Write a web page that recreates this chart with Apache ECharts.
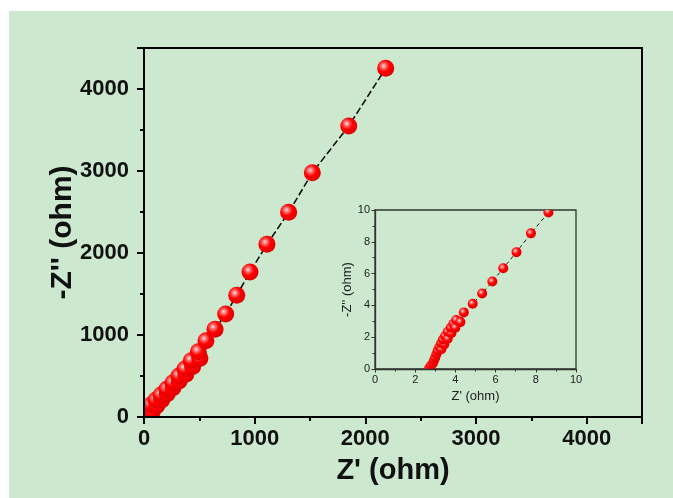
<!DOCTYPE html>
<html>
<head>
<meta charset="utf-8">
<script src="https://cdn.jsdelivr.net/npm/echarts@6/dist/echarts.min.js"></script>
<style>
  html, body { margin: 0; padding: 0; background: #ffffff; }
  #panel { position: absolute; left: 9px; top: 11px; width: 664px; height: 487px; background: #cce8cf; }
  #chart { position: absolute; left: 0; top: 0; width: 673px; height: 498px; }
</style>
</head>
<body>
<div id="panel"></div>
<div id="chart"></div>
<script>
// Nyquist sweep: real part Z' and negative imaginary part -Z'' (ohm)
const zRe = [
  2.69, 2.78, 2.88, 2.94, 3.00, 3.06, 3.12, 3.20, 3.30, 3.29, 3.45, 3.38,
  3.49, 3.62, 3.62, 3.80, 3.77, 3.90, 4.00, 4.04, 4.25, 4.42, 4.86, 5.33,
  5.84, 6.38, 7.04, 7.76, 8.63,
  9, 45, 27, 75, 63, 115, 108, 160, 154, 210, 208, 262, 262, 318, 316, 378,
  370, 440, 427, 505, 491, 560, 642, 738, 838, 958, 1111, 1307, 1521,
  1850, 2184
];
const zIm = [
  0.04, 0.20, 0.36, 0.55, 0.73, 0.94, 1.15, 1.38, 1.25, 1.62, 1.55, 1.85,
  2.08, 1.90, 2.34, 2.25, 2.60, 2.84, 2.60, 3.08, 2.95, 3.56, 4.10, 4.75,
  5.50, 6.34, 7.35, 8.53, 9.85,
  37, 14, 85, 68, 146, 138, 207, 208, 268, 283, 341, 358, 418, 438, 500, 522,
  585, 615, 687, 715, 796, 930, 1070, 1256, 1484, 1768, 2106, 2496, 2979,
  3549, 4252
];

// Axis ranges and tick steps
const mainRange = [0, 4500];
const mainStep = 1000;
const insetRange = [0, 10];
const insetStep = 2;

const points = zRe.map((x, i) => [x, zIm[i]]);
const FONT = "'Liberation Sans', Arial, sans-serif";

function sphereFill() {
  return new echarts.graphic.RadialGradient(0.38, 0.36, 0.68, [
    { offset: 0, color: '#ffe6e6' },
    { offset: 0.22, color: '#ff6a6a' },
    { offset: 0.5, color: '#ff0000' },
    { offset: 1, color: '#dd0000' }
  ]);
}

function markerSeries(xi, yi, r) {
  return {
    type: 'custom',
    xAxisIndex: xi,
    yAxisIndex: yi,
    clip: true,
    z: 4,
    encode: { x: 0, y: 1 },
    data: points,
    renderItem: function (params, api) {
      const p = api.coord([api.value(0), api.value(1)]);
      return {
        type: 'circle',
        shape: { cx: p[0], cy: p[1], r: r },
        style: { fill: sphereFill() }
      };
    }
  };
}

function hideEnd(max) {
  return function (v) { return v === max ? '' : String(v); };
}

const chart = echarts.init(document.getElementById('chart'), null, { renderer: 'canvas' });

chart.setOption({
  backgroundColor: 'transparent',
  animation: false,
  textStyle: { fontFamily: FONT },
  grid: [
    { left: 144, top: 48, width: 498, height: 369, show: true, borderColor: '#000', borderWidth: 2, backgroundColor: 'transparent' },
    { left: 375, top: 210, width: 201, height: 159, show: true, borderColor: '#333', borderWidth: 1.3, backgroundColor: 'transparent' }
  ],
  xAxis: [
    {
      gridIndex: 0, type: 'value', min: mainRange[0], max: mainRange[1], interval: mainStep, z: 10,
      axisLine: { lineStyle: { color: '#000', width: 2 } },
      axisTick: { length: 7, lineStyle: { color: '#000', width: 2 } },
      axisLabel: { fontSize: 22, fontWeight: 'bold', color: '#111', margin: 11, fontFamily: FONT, formatter: hideEnd(mainRange[1]) },
      splitLine: { show: false },
      name: "Z' (ohm)", nameLocation: 'middle', nameGap: 39, nameMoveOverlap: false,
      nameTextStyle: { fontSize: 29, fontWeight: 'bold', color: '#111', fontFamily: FONT }
    },
    {
      gridIndex: 0, type: 'value', min: mainRange[0], max: mainRange[1], interval: mainStep / 2, position: 'bottom', z: 10,
      axisLine: { show: false },
      axisTick: { length: 4, lineStyle: { color: '#000', width: 2 } },
      axisLabel: { show: false },
      splitLine: { show: false }
    },
    {
      gridIndex: 1, type: 'value', min: insetRange[0], max: insetRange[1], interval: insetStep, z: 10,
      axisLine: { lineStyle: { color: '#333', width: 1.3 } },
      axisTick: { length: 3.5, lineStyle: { color: '#333', width: 1 } },
      minorTick: { show: true, splitNumber: 2, length: 2.5, lineStyle: { color: '#333', width: 1 } },
      axisLabel: { fontSize: 11, color: '#222', margin: 5, fontFamily: FONT },
      splitLine: { show: false }, minorSplitLine: { show: false },
      name: "Z' (ohm)", nameLocation: 'middle', nameGap: 21,
      nameTextStyle: { fontSize: 13, color: '#222', fontFamily: FONT }
    }
  ],
  yAxis: [
    {
      gridIndex: 0, type: 'value', min: mainRange[0], max: mainRange[1], interval: mainStep, z: 10,
      axisLine: { lineStyle: { color: '#000', width: 2 } },
      axisTick: { length: 7, lineStyle: { color: '#000', width: 2 } },
      axisLabel: { fontSize: 22, fontWeight: 'bold', color: '#111', margin: 15, fontFamily: FONT, formatter: hideEnd(mainRange[1]) },
      splitLine: { show: false },
      name: "-Z'' (ohm)", nameLocation: 'middle', nameGap: 66, nameMoveOverlap: false,
      nameTextStyle: { fontSize: 30, fontWeight: 'bold', color: '#111', fontFamily: FONT }
    },
    {
      gridIndex: 0, type: 'value', min: mainRange[0], max: mainRange[1], interval: mainStep / 2, position: 'left', z: 10,
      axisLine: { show: false },
      axisTick: { length: 4, lineStyle: { color: '#000', width: 2 } },
      axisLabel: { show: false },
      splitLine: { show: false }
    },
    {
      gridIndex: 1, type: 'value', min: insetRange[0], max: insetRange[1], interval: insetStep, z: 10,
      axisLine: { lineStyle: { color: '#333', width: 1.3 } },
      axisTick: { length: 3.5, lineStyle: { color: '#333', width: 1 } },
      minorTick: { show: true, splitNumber: 2, length: 2.5, lineStyle: { color: '#333', width: 1 } },
      axisLabel: { fontSize: 11, color: '#222', margin: 5, fontFamily: FONT },
      splitLine: { show: false }, minorSplitLine: { show: false },
      name: "-Z'' (ohm)", nameLocation: 'middle', nameGap: 20,
      nameTextStyle: { fontSize: 13, color: '#222', fontFamily: FONT }
    }
  ],
  series: [
    {
      type: 'line', xAxisIndex: 0, yAxisIndex: 0, data: points, showSymbol: false, clip: true, z: 2,
      lineStyle: { color: '#111', width: 1.6, type: [7, 3] }
    },
    markerSeries(0, 0, 8.5),
    {
      type: 'line', xAxisIndex: 2, yAxisIndex: 2, data: points, showSymbol: false, clip: true, z: 2,
      lineStyle: { color: '#222', width: 1, type: [4, 3] }
    },
    markerSeries(2, 2, 5)
  ]
});
</script>
</body>
</html>
